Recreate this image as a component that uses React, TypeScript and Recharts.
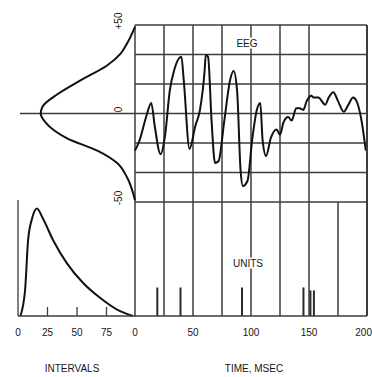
import { LineChart, Line, BarChart, Bar, XAxis, YAxis, CartesianGrid, ReferenceLine } from 'recharts';

const W = 372;
const H = 377;
const INK = '#161616';
const GRID = '#3c3c3c';
const FONT = '"Liberation Sans", Arial, sans-serif';

// time axis (msec)
const timeTicks = [0, 25, 50, 75, 100, 125, 150, 175, 200];
const timeLabels = [0, 50, 100, 150, 200];

// EEG amplitude grid (+50 .. -50 in six steps)
const ampTicks = [-50, -100 / 3, -50 / 3, 0, 50 / 3, 100 / 3, 50];
const ampLabelValues = [50, 0, -50];
const ampLabels = ['+50', '0', '-50'];

// EEG trace
const eegTime = [0, 4, 10, 14, 17, 22, 26, 30, 34, 40, 42, 47, 52, 56, 60, 61, 63, 66, 69, 72, 77, 82, 85, 88, 91, 93, 97, 101, 105, 108, 110, 113, 117, 122, 125, 128, 132, 135, 139, 142, 145, 148, 152, 154, 158, 164, 167, 171, 175, 180, 184, 188, 191, 195, 199];
const eegValue = [-21, -15, -1, 6, -7, -23, -12, 13, 25, 32, 19, -20, -7, 2, 24, 33, 32, -4, -28, -27, -4, 19, 24, 13, -32, -41, -38, -15, 2, 6, -15, -24, -14, -9, -12, -5, -2, -4, 3, 3, 2, 7, 10, 9, 9, 5, 9, 12, 7, 1, 5, 9, 7, -3, -21];

// amplitude distribution (left, sideways)
const ampLevel = [49, 40, 34, 27, 19, 11, 4, 0, -5, -14, -21, -28, -36, -45, -49];
const ampDensity = [0, 0.08, 0.15, 0.3, 0.57, 0.82, 0.98, 1, 0.95, 0.72, 0.4, 0.19, 0.085, 0.02, 0];

// interval histogram
const intervalTicks = [0, 25, 50, 75];
const intervalBin = [2, 6, 8.5, 12, 16, 21, 30, 41.5, 55, 69.5, 84, 97.5];
const intervalCount = [0, 24, 70, 91, 100, 91, 70, 49, 31, 17, 6, 0];

// unit spikes
const unitTime = [19, 39, 92, 145, 151, 154];
const unitHeight = [1, 1, 1, 1, 0.9, 0.9];

const eegData = eegTime.map((t, i) => ({ t, v: eegValue[i] }));
const distData = ampLevel.map((v, i) => ({ v, d: ampDensity[i] }));
const intervalData = intervalBin.map((b, i) => ({ b, c: intervalCount[i] }));
const unitData = unitTime.map((t, i) => ({ t, u: unitHeight[i] }));

const AmpTick = ({ x, y, payload }: any) => {
  const idx = ampLabelValues.findIndex((v) => Math.abs(v - payload.value) < 0.01);
  if (idx < 0) return null;
  const tx = x - 17;
  const ty = y - 4;
  return (
    <text x={tx} y={ty} transform={`rotate(-90 ${tx} ${ty})`} textAnchor="middle" dominantBaseline="central" fontSize={10} fill={INK} fontFamily={FONT}>
      {ampLabels[idx]}
    </text>
  );
};

const TimeTick = ({ x, y, payload }: any) => {
  if (!timeLabels.includes(payload.value)) return null;
  const last = payload.value === timeLabels[timeLabels.length - 1];
  return (
    <text x={last ? x + 5 : x} y={y + 20} textAnchor={last ? 'end' : 'middle'} fontSize={10} fill={INK} fontFamily={FONT}>
      {payload.value}
    </text>
  );
};

const IntervalTick = ({ x, y, payload }: any) => (
  <g>
    {payload.value > 0 && <line x1={x} x2={x} y1={y - 9} y2={y} stroke={GRID} strokeWidth={1.3} />}
    <text x={x} y={y + 20} textAnchor="middle" fontSize={10} fill={INK} fontFamily={FONT}>
      {payload.value}
    </text>
  </g>
);

const layer: React.CSSProperties = { position: 'absolute', left: 0, top: 0 };

const tag = (left: number, top: number): React.CSSProperties => ({
  position: 'absolute',
  left,
  top,
  transform: 'translate(-50%, -50%)',
  fontSize: 10,
  fontFamily: FONT,
  color: INK,
  background: '#fff',
  padding: '0 2px',
  lineHeight: '11px',
  whiteSpace: 'nowrap',
});

const frameLine = { stroke: GRID, strokeWidth: 1.5 };
const rightEdge = { stroke: GRID, strokeWidth: 2 };

export default function App() {
  return (
    <div style={{ position: 'absolute', left: 0, top: 0, width: W, height: H, background: '#fff', overflow: 'hidden' }}>
      {/* EEG trace with grid */}
      <div style={layer}>
        <LineChart width={W} height={H} data={eegData} margin={{ top: 25, right: 4, bottom: 175, left: 115 }}>
          <CartesianGrid stroke={GRID} strokeWidth={1.5} />
          <XAxis type="number" dataKey="t" domain={[0, 200]} ticks={timeTicks} hide />
          <YAxis type="number" domain={[-50, 50]} ticks={ampTicks} width={20} axisLine={false} tickLine={false} tickSize={0} tickMargin={0} tick={<AmpTick />} interval={0} />
          <YAxis yAxisId="frame" orientation="right" type="number" domain={[-50, 50]} width={1} tick={false} axisLine={rightEdge} />
          <Line type="monotone" dataKey="v" stroke="#111" strokeWidth={2} dot={false} isAnimationActive={false} />
        </LineChart>
      </div>

      {/* unit spikes */}
      <div style={layer}>
        <BarChart width={W} height={H} data={unitData} margin={{ top: 202, right: 4, bottom: 41, left: 135 }}>
          <CartesianGrid stroke={GRID} strokeWidth={1.5} horizontal={false} />
          <XAxis type="number" dataKey="t" domain={[0, 200]} ticks={timeTicks} interval={0} height={20} axisLine={frameLine} tickLine={false} tickSize={0} tickMargin={0} tick={<TimeTick />} />
          <YAxis type="number" domain={[0, 4]} hide />
          <YAxis yAxisId="frame" orientation="right" type="number" domain={[0, 4]} width={1} tick={false} axisLine={rightEdge} />
          <Bar dataKey="u" fill="#2a2a2a" barSize={2} isAnimationActive={false} />
        </BarChart>
      </div>

      {/* amplitude distribution, drawn sideways */}
      <div style={layer}>
        <LineChart layout="vertical" width={W} height={H} data={distData} margin={{ top: 25, right: W - 135, bottom: 175, left: 20 }}>
          <XAxis type="number" domain={[0, 1.22]} reversed hide />
          <YAxis type="number" dataKey="v" domain={[-50, 50]} reversed hide />
          <ReferenceLine y={0} stroke={GRID} strokeWidth={1.5} />
          <Line type="monotone" dataKey="d" stroke="#111" strokeWidth={2} dot={false} isAnimationActive={false} />
        </LineChart>
      </div>

      {/* interval histogram */}
      <div style={layer}>
        <LineChart width={W} height={H} data={intervalData} margin={{ top: 200, right: W - 136, bottom: 41, left: 17 }}>
          <XAxis type="number" dataKey="b" domain={[0, 100]} ticks={intervalTicks} interval={0} height={20} axisLine={frameLine} tickLine={false} tickSize={0} tickMargin={0} tick={<IntervalTick />} />
          <YAxis type="number" domain={[0, 108]} width={1} tick={false} axisLine={{ stroke: GRID, strokeWidth: 1.3 }} />
          <Line type="monotone" dataKey="c" stroke="#111" strokeWidth={2} dot={false} isAnimationActive={false} />
        </LineChart>
      </div>

      <div style={tag(247, 43)}>EEG</div>
      <div style={tag(248, 263)}>UNITS</div>
      <div style={{ ...tag(72, 368), background: 'transparent' }}>INTERVALS</div>
      <div style={{ ...tag(254, 368), background: 'transparent' }}>TIME, MSEC</div>
    </div>
  );
}
